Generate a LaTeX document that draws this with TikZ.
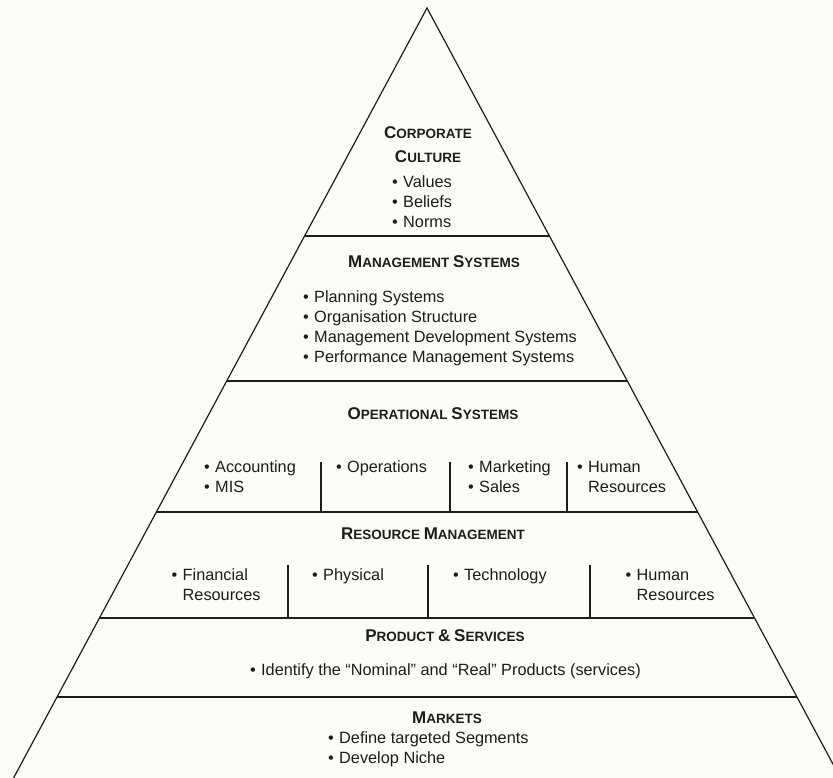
\documentclass[tikz,border=0pt]{standalone}
\usepackage{fontspec}
\setmainfont{Liberation Sans}
\usetikzlibrary{calc}
\definecolor{paper}{RGB}{252,252,247}
\definecolor{ink}{RGB}{28,28,28}
% small-caps style heading: large initial, smaller capitals
\newcommand\hd[2]{{\bfseries\fontsize{17}{20}\selectfont #1\fontsize{13.5}{20}\selectfont #2}}
% bullet item and hanging continuation
\newcommand\bl{\makebox[11pt][l]{•}}
\newcommand\ind{\hspace*{11pt}}
\newcommand\blist[1]{\begin{tabular}[t]{@{}l@{}}#1\end{tabular}}
\tikzset{
  edge/.style={draw=ink, line width=1.2pt},
  rule/.style={draw=ink, line width=1.6pt},
  divider/.style={draw=ink, line width=1.1pt},
  title/.style={text=ink, inner sep=0pt, anchor=base},
  items/.style={text=ink, inner sep=0pt, anchor=base west, font=\fontsize{16.3}{20}\selectfont},
}
\begin{document}
\begin{tikzpicture}[x=1pt,y=-1pt]
\useasboundingbox (0,0) rectangle (833,778);
\fill[paper] (0,0) rectangle (833,778);
\clip (0,0) rectangle (833,778);

% pyramid outline
\coordinate (apex) at (427,8);
\coordinate (bl) at (7.1,790);
\coordinate (br) at (846.9,790);
\draw[edge, line join=miter] (bl) -- (apex) -- (br);

% level boundaries
\foreach \n/\y in {1/236,2/381,3/512,4/618,5/697}{
  \coordinate (h\n l) at ($(apex)!{(\y-8)/782}!(bl)$);
  \coordinate (h\n r) at ($(apex)!{(\y-8)/782}!(br)$);
  \draw[rule] (h\n l) -- (h\n r);
}

% column dividers
\foreach \n/\x in {1/321,2/450,3/567}{
  \coordinate (od\n) at (\x,462);
  \draw[divider] (od\n) -- (od\n |- h3l);
}
\foreach \n/\x in {1/288,2/428,3/590}{
  \coordinate (rd\n) at (\x,565);
  \draw[divider] (rd\n) -- (rd\n |- h4l);
}

% corporate culture
\node[title] (cc1) at (428,139) {\hd{C}{ORPORATE}};
\node[title] (cc2) at (428,163) {\hd{C}{ULTURE}};
\node[items] (ccl) at (392,187.5) {\blist{\bl Values\\ \bl Beliefs\\ \bl Norms}};

% management systems
\node[title] (ms) at (434,268) {\hd{M}{ANAGEMENT }\hd{S}{YSTEMS}};
\node[items] (msl) at (303,302.5) {\blist{\bl Planning Systems\\ \bl Organisation Structure\\ \bl Management Development Systems\\ \bl Performance Management Systems}};

% operational systems
\node[title] (os) at (433,419) {\hd{O}{PERATIONAL }\hd{S}{YSTEMS}};
\node[items] (os1) at (204,472.5) {\blist{\bl Accounting\\ \bl MIS}};
\node[items] (os2) at (336,472.5) {\blist{\bl Operations}};
\node[items] (os3) at (468,472.5) {\blist{\bl Marketing\\ \bl Sales}};
\node[items] (os4) at (577,472.5) {\blist{\bl Human\\ \ind Resources}};

% resource management
\node[title] (rm) at (433,539) {\hd{R}{ESOURCE }\hd{M}{ANAGEMENT}};
\node[items] (rm1) at (171.5,580.5) {\blist{\bl Financial\\ \ind Resources}};
\node[items] (rm2) at (312,580.5) {\blist{\bl Physical}};
\node[items] (rm3) at (453,580.5) {\blist{\bl Technology}};
\node[items] (rm4) at (625.5,580.5) {\blist{\bl Human\\ \ind Resources}};

% product & services
\node[title] (ps) at (445,641) {\hd{P}{RODUCT }\hd{\&}{ }\hd{S}{ERVICES}};
\node[items] (psl) at (250,675.5) {\blist{\bl Identify the “Nominal” and “Real” Products (services)}};

% markets
\node[title] (mk) at (447,723) {\hd{M}{ARKETS}};
\node[items] (mkl) at (328,743.5) {\blist{\bl Define targeted Segments\\ \bl Develop Niche}};
\end{tikzpicture}
\end{document}
